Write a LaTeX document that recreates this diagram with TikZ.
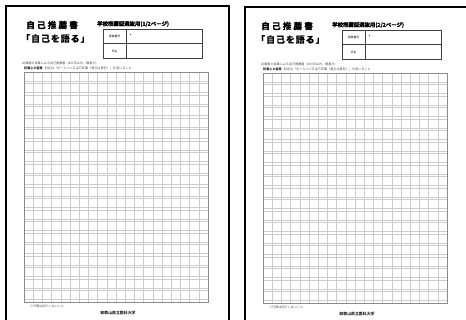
\documentclass[tikz,border=0pt]{standalone}
\usepackage{fontspec}
\newfontfamily\jp[BoldFont=* Bold]{Noto Sans CJK JP}
\begin{document}
\begin{tikzpicture}[x=1pt,y=-1pt,
  frame/.style={line width=1.8pt,draw=black},
  tbl/.style={line width=0.6pt,draw=black!75},
  gridl/.style={line width=0.45pt,draw=black!20},
  gridb/.style={line width=0.6pt,draw=black!45},
  txt/.style={inner sep=0pt,anchor=west,font=\jp},
]
\useasboundingbox (0,0) rectangle (466,320);
\clip (0,0) rectangle (466,320);
\foreach \dx/\dy/\pg/\tx in {0/0/1/0,239/1/2/-4}{
\begin{scope}[shift={(\dx,\dy)}]
  \draw[frame] (6,6) rectangle (223+6,330);
  % titles
  \node[txt,font=\jp\bfseries\fontsize{8.8}{9}\selectfont\addfontfeature{LetterSpace=22,FakeBold=1}] (t1) at (26+\tx,25) {自己推薦書};
  \node[txt,font=\jp\bfseries\fontsize{9}{9}\selectfont\addfontfeature{LetterSpace=10,FakeBold=1}] (t2) at (21+\tx,38.5) {「自己を語る」};
  \node[txt,font=\jp\bfseries\fontsize{5.4}{6}\selectfont\addfontfeature{FakeBold=1.5}] (st) at (97+\tx,24) {学校推薦型選抜用(\pg/2ページ)};
  % table
  \draw[tbl] (103,29) rectangle (202,58);
  \draw[tbl] (126,29) -- (126,58);
  \draw[tbl] (103,43.5) -- (202,43.5);
  \node[font=\jp\fontsize{2.8}{3}\selectfont,inner sep=0pt] (l1) at (114.5,36.2) {受験番号};
  \node[font=\jp\fontsize{2.8}{3}\selectfont,inner sep=0pt] (l2) at (114.5,51) {氏名};
  \node[font=\jp\fontsize{4}{4}\selectfont,inner sep=0pt] (ast) at (130.5,35.5) {*};
  % notes
  \node[txt,font=\jp\fontsize{3.1}{3}\selectfont,text=black!70] (n1) at (22,63) {出願者の自筆による自己推薦書（800字以内、横書き）};
  \node[txt,font=\jp\fontsize{3.1}{3}\selectfont,text=black!70] (n2) at (24,68.5) {{\bfseries\color{black}記載上の留意}\hspace{2pt}記述は「ボールペン又は万年筆（黒又は青色）」を用いること};
  % grid
  \foreach \r in {0,...,19}{
    \draw[gridl] (24,72+\r*11.5) -- (208,72+\r*11.5);
    \draw[gridl] (24,72+\r*11.5+9.2) -- (208,72+\r*11.5+9.2);
  }
  \foreach \c in {1,...,19}{
    \draw[gridl] (24+\c*9.2,72) -- (24+\c*9.2,302);
  }
  \draw[gridb] (24,72) rectangle (208,302);
  % footers
  \node[txt,font=\jp\fontsize{3.1}{3}\selectfont,text=black!70] (f1) at (30,306) {※行間は記入しないこと};
  \node[font=\jp\bfseries\fontsize{3.9}{4}\selectfont,inner sep=0pt] (f2) at (118,313.5) {和歌山県立医科大学};
\end{scope}
}
\end{tikzpicture}
\end{document}
